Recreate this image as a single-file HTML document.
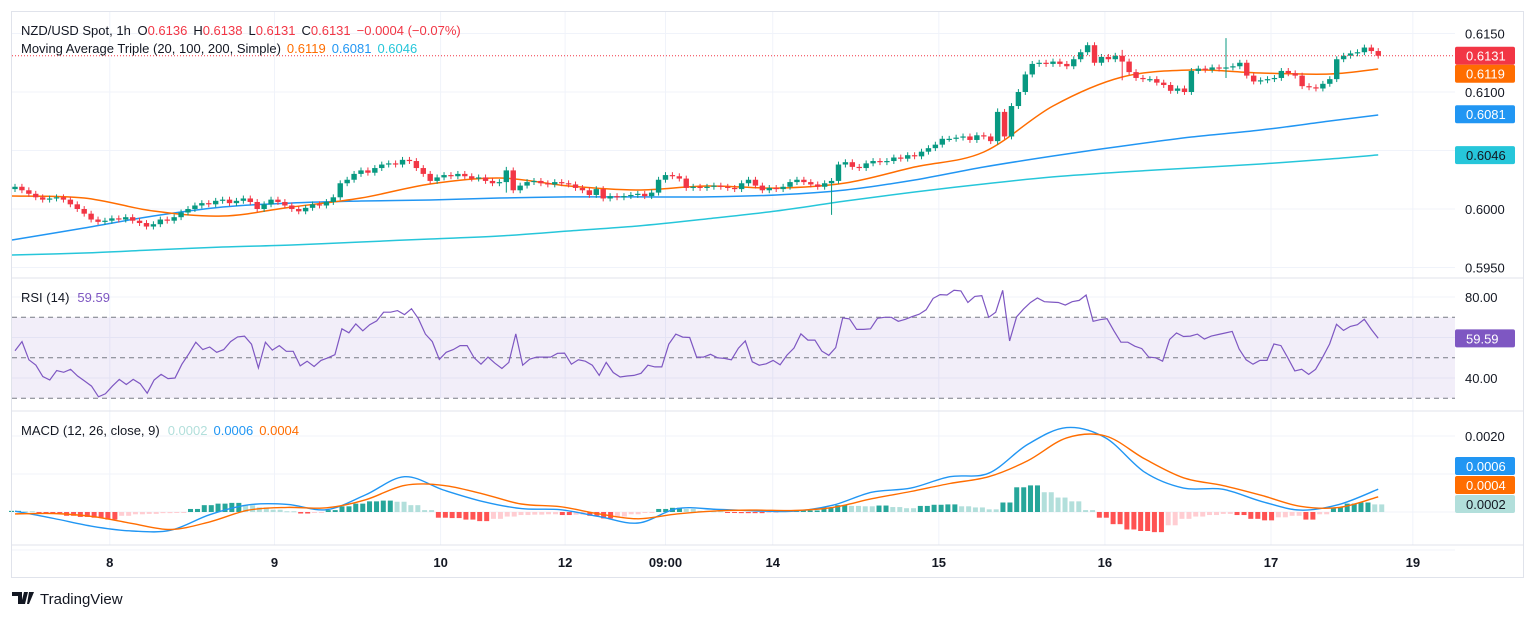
<!DOCTYPE html>
<html><head><meta charset="utf-8"><style>
html,body{margin:0;padding:0;background:#fff;}
svg{display:block;font-family:"Liberation Sans",sans-serif;}
</style></head><body>
<svg id="chart" width="1536" height="618" viewBox="0 0 1536 618" xmlns="http://www.w3.org/2000/svg">
<rect x="0" y="0" width="1536" height="618" fill="#fff"/>
<g id="grid"></g>
<g id="price"></g>
<g id="rsi"></g>
<g id="macd"></g>
<g id="axes"></g>
<rect x="11.5" y="11.5" width="1512" height="566" fill="none" stroke="#e0e3eb"/>
<line x1="11" y1="278" x2="1524" y2="278" stroke="#e0e3eb"/>
<line x1="11" y1="411" x2="1524" y2="411" stroke="#e0e3eb"/>
<line x1="11" y1="545" x2="1524" y2="545" stroke="#e0e3eb"/>
<text x="21" y="35" font-size="13" fill="#131722">NZD/USD Spot, 1h <tspan dx="3">O</tspan><tspan fill="#f23645">0.6136</tspan><tspan dx="6">H</tspan><tspan fill="#f23645">0.6138</tspan><tspan dx="6">L</tspan><tspan fill="#f23645">0.6131</tspan><tspan dx="6">C</tspan><tspan fill="#f23645">0.6131</tspan><tspan dx="6" fill="#f23645">−0.0004 (−0.07%)</tspan></text>
<text x="21" y="53" font-size="13" fill="#131722">Moving Average Triple (20, 100, 200, Simple)<tspan dx="6" fill="#ff6d00">0.6119</tspan><tspan dx="6" fill="#2196f3">0.6081</tspan><tspan dx="6" fill="#26c6da">0.6046</tspan></text>
<text x="21" y="302" font-size="13" fill="#131722">RSI (14)<tspan dx="8" fill="#7e57c2">59.59</tspan></text>
<text x="21" y="435" font-size="13" fill="#131722">MACD (12, 26, close, 9)<tspan dx="8" fill="#b2dfdb">0.0002</tspan><tspan dx="6" fill="#2196f3">0.0006</tspan><tspan dx="6" fill="#ff6d00">0.0004</tspan></text>
<g>
<path d="M12 592h10v12h-4v-8h-6z M24 592h4l-3 12h-4z M29 592h5l-5 12h-2z" fill="#131722"/>
<text x="40" y="604" font-size="15" fill="#131722">TradingView</text>
</g>
</svg>
<script>
// ---------- data ----------
const closes = [
0.6019,0.6016,0.6013,0.6010,0.6008, 0.6009,0.6010,0.6008,0.6004,0.6000,
0.5996,0.5991,0.5989,0.5990,0.5992, 0.5991,0.5993,0.5990,0.5988,0.5985,
0.5987,0.5991,0.5990,0.5993,0.5997, 0.6000,0.6003,0.6005,0.6004,0.6007,
0.6008,0.6005,0.6007,0.6009,0.6006, 0.6000,0.6004,0.6008,0.6006,0.6003,
0.6000,0.5998,0.6001,0.6004,0.6003, 0.6006,0.6010,0.6022,0.6025,0.6030,
0.6033,0.6031,0.6035,0.6038,0.6039, 0.6038,0.6042,0.6041,0.6035,0.6030,
0.6024,0.6027,0.6029,0.6028,0.6030, 0.6028,0.6026,0.6027,0.6024,0.6022,
0.6023,0.6033,0.6016,0.6020,0.6023, 0.6024,0.6022,0.6021,0.6023,0.6022,
0.6021,0.6018,0.6016,0.6012,0.6017, 0.6009,0.6011,0.6010,0.6011,0.6012,
0.6013,0.6011,0.6014,0.6025,0.6029, 0.6028,0.6026,0.6018,0.6019,0.6018,
0.6019,0.6020,0.6019,0.6018,0.6017, 0.6022,0.6025,0.6020,0.6016,0.6018,
0.6017,0.6019,0.6023,0.6025,0.6023, 0.6021,0.6019,0.6022,0.6024,0.6038,
0.6040,0.6036,0.6035,0.6039,0.6041, 0.6040,0.6041,0.6044,0.6043,0.6046,
0.6045,0.6049,0.6052,0.6055,0.6060, 0.6060,0.6061,0.6062,0.6059,0.6063,
0.6062,0.6058,0.6083,0.6062,0.6088, 0.6100,0.6115,0.6124,0.6125,0.6124,
0.6126,0.6124,0.6122,0.6128,0.6134, 0.6140,0.6125,0.6130,0.6128,0.6131,
0.6126,0.6117,0.6112,0.6111,0.6111, 0.6108,0.6106,0.6101,0.6103,0.6100,
0.6118,0.6120,0.6119,0.6121,0.6120, 0.6121,0.6122,0.6125,0.6114,0.6109,
0.6110,0.6111,0.6112,0.6118,0.6116, 0.6114,0.6105,0.6104,0.6103,0.6107,
0.6111,0.6128,0.6131,0.6133,0.6134, 0.6138,0.6135,0.6131];
const firstOpen = 0.6017;
const spikeBars = [118, 175, 142, 71, 160];
const spikeHigh = [0.6026, 0.6146, 0.6086, 0.6036, 0.6136];
const spikeLow  = [0.5995, 0.6112, 0.6055, 0.6014, 0.6110];
const ma20  = [0.60111,0.60094,0.59983,0.59940,0.60017,0.60094,0.60214,0.60265,0.60197,0.60162,0.60197,0.60179,0.60222,0.60359,0.60487,0.6088,0.61128,0.61188,0.61162,0.61154,0.61197];
const ma100 = [0.59735,0.59838,0.59940,0.60017,0.60051,0.60068,0.60077,0.60094,0.60103,0.60103,0.60103,0.6012,0.60162,0.60248,0.60359,0.60453,0.60538,0.60615,0.60675,0.60752,0.60803];
const ma200 = [0.59607,0.59624,0.5965,0.59675,0.59692,0.59718,0.59744,0.59769,0.59812,0.59855,0.59915,0.59983,0.60068,0.60145,0.60214,0.60274,0.60316,0.6035,0.60385,0.60427,0.60462];
const rsiVals = [53.5,58,49,46.3,40.7,39,43.7,42.8,44.3,41,38.5,36,30.7,32.2,36,39.3,36.8,39.3,37.2,32.5,39,41.8,39.7,40,46.8,52,57.7,54,55.3,52.7,54,58,60.3,60.7,56.7,45,57.7,53.8,56,53.2,53.2,46,48.3,45.7,48.7,50,51.5,64.3,62.3,66.7,63.3,66.3,68.2,72.5,72.5,73.3,71.3,74.2,69.3,61.7,58,49.2,52.7,54,56,56,50,46.8,50.3,47.3,44.7,47.7,61.8,46.3,49.3,50.3,50.3,50.3,52.2,52.3,46.8,49,48.3,46.3,41.3,47.7,42.7,40.5,41,41.3,42.3,46.3,45.5,45.5,56.7,61.7,60.2,60,50.3,50.3,51.7,50,49.7,49,54.7,58.3,48,46.3,47,48.7,46.5,51.3,54.8,61.8,58.7,58.7,53.3,51.2,55,69.7,69.2,64,64,64.3,69.5,70,70,68,69,70.3,71.5,73.7,79.3,81.2,81,83.3,83,77.3,80.3,80.7,70,72.5,83.3,58.3,70.2,74,77.3,79.5,77.7,77.5,77.3,76,77.7,78.3,81,68,68.8,69.3,63.3,57.7,57.7,55.7,54.5,50.3,50,48.3,59,62.2,60.5,60.7,61.7,59.2,60.7,61.5,62.2,63,54.3,49,46.8,48.7,48.7,56.8,56,50,43.5,44.3,41.8,44.3,50.2,56.8,66.5,63.5,65.5,66.3,69,64,59.59];
const macdLine = [0.2,-1.7,-3.8,-5.0,-4.8,-0.7,1.9,2.0,0.6,4.5,9.3,5.8,2.8,0.9,0.6,-1.2,-2.9,0.9,0.7,0.3,0.2,1.8,5.2,6.3,9.3,10.2,17.8,22.2,19.5,10.5,6.3,6.0,2.8,0.5,2.0,6.0];
const signalLine = [-0.5,-0.4,-1.2,-3.0,-4.6,-2.6,0.5,1.2,1.1,3.2,7.0,7.0,4.8,2.1,1.4,-0.5,-1.8,-0.5,0.3,0.5,0.4,1.2,3.5,5.4,7.5,9.3,13.5,19.5,20.0,14.0,9.0,7.0,4.4,1.5,1.2,4.0];
const histVals = [0.3,0.2,-0.2,-0.3,-1.0,-1.3,-1.5,-2.0,-1.0,-0.6,-0.5,-0.3,-0.1,0.8,1.8,2.2,2.4,1.8,1.2,0.6,0.2,-0.4,-0.2,0.5,1.5,2.2,2.8,3.0,2.7,1.8,0.5,-1.5,-1.6,-2.0,-2.4,-1.8,-1.2,-0.8,-0.7,-0.6,-0.8,-0.7,-1.0,-1.7,-1.2,-0.6,-0.2,0.8,1.1,0.8,0.3,0.2,-0.1,-0.3,-0.3,-0.1,0.3,0.4,0.4,1.2,1.8,1.6,1.5,1.7,1.3,1.0,1.6,1.9,2.0,1.5,1.2,0.7,2.5,6.5,7.0,5.2,3.8,2.8,0.5,-1.5,-3.2,-4.6,-5.0,-5.3,-3.5,-1.8,-1.2,-0.8,-0.5,-0.8,-1.8,-2.2,-1.4,-1.0,-2.0,-0.6,1.2,2.2,2.5,2.0];
const priceTicks = [0.6150,0.6100,0.6050,0.6000,0.5950];
const priceTickLabels = ["0.6150","0.6100","0.6050","0.6000","0.5950"];
const rsiTicks = [80,40];
const rsiTickLabels = ["80.00","40.00"];
const rsiGrid = [80,60,40];
const macdTicks = [20];
const macdTickLabels = ["0.0020"];
const macdGrid = [20,10,0,-10];
const timeLabels = ["8","9","10","12","09:00","14","15","16","17","19"];
const timeBars = [13.7,37.5,61.5,79.5,94,109.5,133.5,157.5,181.5,202];

// ---------- scales ----------
const X0 = 15, DX = 6.92, PLOT_R = 1455;
const xBar = i => X0 + i * DX;
const yPrice = p => 92 + (0.61 - p) * 11700;
const yRsi = v => 297 + (80 - v) * 2.025;
const yMacd = v => 512 + (-v) * 3.8;   // v in 1e-4 units
const xSpan = (i, n) => X0 + i * ((xBar(closes.length - 1) - X0) / (n - 1));
const maBar = i => (i < 20 ? i * 10 : 197);

const NS = "http://www.w3.org/2000/svg";
function mk(tag, attrs, parent) {
  const e = document.createElementNS(NS, tag);
  for (const k in attrs) e.setAttribute(k, attrs[k]);
  parent.appendChild(e);
  return e;
}
function smoothPath(pts) {
  let d = 'M' + pts[0][0].toFixed(1) + ' ' + pts[0][1].toFixed(1);
  for (let i = 0; i < pts.length - 1; i++) {
    const p0 = pts[i - 1] || pts[i], p1 = pts[i], p2 = pts[i + 1], p3 = pts[i + 2] || p2;
    const c1x = p1[0] + (p2[0] - p0[0]) / 6, c1y = p1[1] + (p2[1] - p0[1]) / 6;
    const c2x = p2[0] - (p3[0] - p1[0]) / 6, c2y = p2[1] - (p3[1] - p1[1]) / 6;
    d += ' C' + c1x.toFixed(1) + ' ' + c1y.toFixed(1) + ' ' + c2x.toFixed(1) + ' ' + c2y.toFixed(1) + ' ' + p2[0].toFixed(1) + ' ' + p2[1].toFixed(1);
  }
  return d;
}
const grid = document.getElementById('grid');
const price = document.getElementById('price');
const rsiG = document.getElementById('rsi');
const macdG = document.getElementById('macd');
const axes = document.getElementById('axes');

timeBars.forEach((b, i) => {
  const x = xBar(b);
  const l = mk('line', {x1: x, y1: 12, x2: x, y2: 545, stroke: '#f0f3fa'}, grid);
  
  
  const t = mk('text', {x: x, y: 567, 'font-size': 13, 'text-anchor': 'middle', fill: '#131722', 'font-weight': 'bold'}, axes);
  t.textContent = timeLabels[i];
  
  
});
priceTicks.forEach((p, i) => {
  const y = yPrice(p);
  const l = mk('line', {x1: 12, y1: y, x2: PLOT_R, y2: y, stroke: '#f0f3fa'}, grid);
  
  
  const t = mk('text', {x: 1465, y: y + 5, 'font-size': 13, fill: '#131722'}, axes);
  t.textContent = priceTickLabels[i];
  
  
});
const band = mk('rect', {x: 12, y: yRsi(70), width: PLOT_R - 12, height: yRsi(30) - yRsi(70), fill: '#7e57c2', 'fill-opacity': 0.1}, rsiG);


rsiGrid.forEach(v => {
  const l = mk('line', {x1: 12, y1: yRsi(v), x2: PLOT_R, y2: yRsi(v), stroke: '#f0f3fa'}, grid);
  
  
});
[70, 50, 30].forEach(v => {
  const l = mk('line', {x1: 12, y1: yRsi(v), x2: PLOT_R, y2: yRsi(v), stroke: '#787b86', 'stroke-dasharray': '5 4'}, rsiG);
  
  
});
rsiTicks.forEach((v, i) => {
  const t = mk('text', {x: 1465, y: yRsi(v) + 5, 'font-size': 13, fill: '#131722'}, axes);
  t.textContent = rsiTickLabels[i];
  
  
});
macdGrid.forEach(v => {
  const l = mk('line', {x1: 12, y1: yMacd(v), x2: PLOT_R, y2: yMacd(v), stroke: '#f0f3fa'}, grid);
  
  
});
macdTicks.forEach((v, i) => {
  const t = mk('text', {x: 1465, y: yMacd(v) + 5, 'font-size': 13, fill: '#131722'}, axes);
  t.textContent = macdTickLabels[i];
  
  
});

function maLine(arr, color, name) {
  const pts = arr.map((v, i) => [maBar(i) === 0 ? 12 : xBar(maBar(i)), yPrice(v)]);
  const p = mk('path', {d: smoothPath(pts), fill: 'none', stroke: color, 'stroke-width': 1.5}, price);
  
  
}
maLine(ma200, '#26c6da', 'ma200-line');
maLine(ma100, '#2196f3', 'ma100-line');
maLine(ma20, '#ff6d00', 'ma20-line');

closes.forEach((c, i) => {
  const o = i ? closes[i - 1] : firstOpen;
  let hi = Math.max(o, c) + 0.00025, lo = Math.min(o, c) - 0.00025;
  const s = spikeBars.indexOf(i);
  if (s >= 0) { hi = Math.max(hi, spikeHigh[s]); lo = Math.min(lo, spikeLow[s]); }
  const up = c >= o, col = up ? '#089981' : '#f23645';
  const x = xBar(i);
  const g = mk('g', {}, price);
  
  
  mk('line', {x1: x, y1: yPrice(hi), x2: x, y2: yPrice(lo), stroke: col, 'stroke-width': 1}, g);
  const yt = yPrice(Math.max(o, c)), yb = yPrice(Math.min(o, c));
  mk('rect', {x: x - 2.7, y: yt, width: 5.4, height: Math.max(1.2, yb - yt), fill: col}, g);
});
const lp = mk('line', {x1: 12, y1: yPrice(closes[closes.length - 1]), x2: PLOT_R, y2: yPrice(closes[closes.length - 1]), stroke: '#f23645', 'stroke-dasharray': '1 2'}, price);



const rd = rsiVals.map((v, i) => (i ? 'L' : 'M') + xSpan(i, rsiVals.length).toFixed(1) + ' ' + yRsi(v).toFixed(1)).join(' ');
const rp = mk('path', {d: rd, fill: 'none', stroke: '#7e57c2', 'stroke-width': 1.2}, rsiG);



histVals.forEach((v, i) => {
  const prev = i ? histVals[i - 1] : 0;
  let col;
  if (v >= 0) col = v >= prev ? '#26a69a' : '#b2dfdb';
  else col = v <= prev ? '#ff5252' : '#ffcdd2';
  const x = xSpan(i, histVals.length);
  const y0 = yMacd(0), y1 = yMacd(v);
  [-3.5, 3.5].forEach(off => {
    const r = mk('rect', {x: x + off - 2.5, y: Math.min(y0, y1), width: 5, height: Math.max(1, Math.abs(y1 - y0)), fill: col}, macdG);
    
    
  });
});
function macdPath(arr, color, name) {
  const pts = arr.map((v, i) => [xSpan(i, arr.length), yMacd(v)]);
  const p = mk('path', {d: smoothPath(pts), fill: 'none', stroke: color, 'stroke-width': 1.4, 'stroke-linejoin': 'round'}, macdG);
  
  
}
macdPath(macdLine, '#2196f3', 'macd-line');
macdPath(signalLine, '#ff6d00', 'signal-line');

function badge(y, txt, bg, fg, name) {
  const g = mk('g', {}, axes);
  
  
  mk('rect', {x: 1455, y: y - 9, width: 60, height: 18, rx: 2, fill: bg}, g);
  const t = mk('text', {x: 1466, y: y + 5, 'font-size': 13, fill: fg}, g);
  t.textContent = txt;
}
badge(yPrice(0.6131), '0.6131', '#f23645', '#fff', 'last-price-badge');
badge(yPrice(0.6131) + 18, '0.6119', '#ff6d00', '#fff', 'ma20-badge');
badge(yPrice(0.6081), '0.6081', '#2196f3', '#fff', 'ma100-badge');
badge(yPrice(0.6046), '0.6046', '#26c6da', '#131722', 'ma200-badge');
badge(yRsi(59.59), '59.59', '#7e57c2', '#fff', 'rsi-badge');
badge(466, '0.0006', '#2196f3', '#fff', 'macd-badge');
badge(485, '0.0004', '#ff6d00', '#fff', 'signal-badge');
badge(504, '0.0002', '#b2dfdb', '#131722', 'histogram-badge');
</script>
</body></html>
